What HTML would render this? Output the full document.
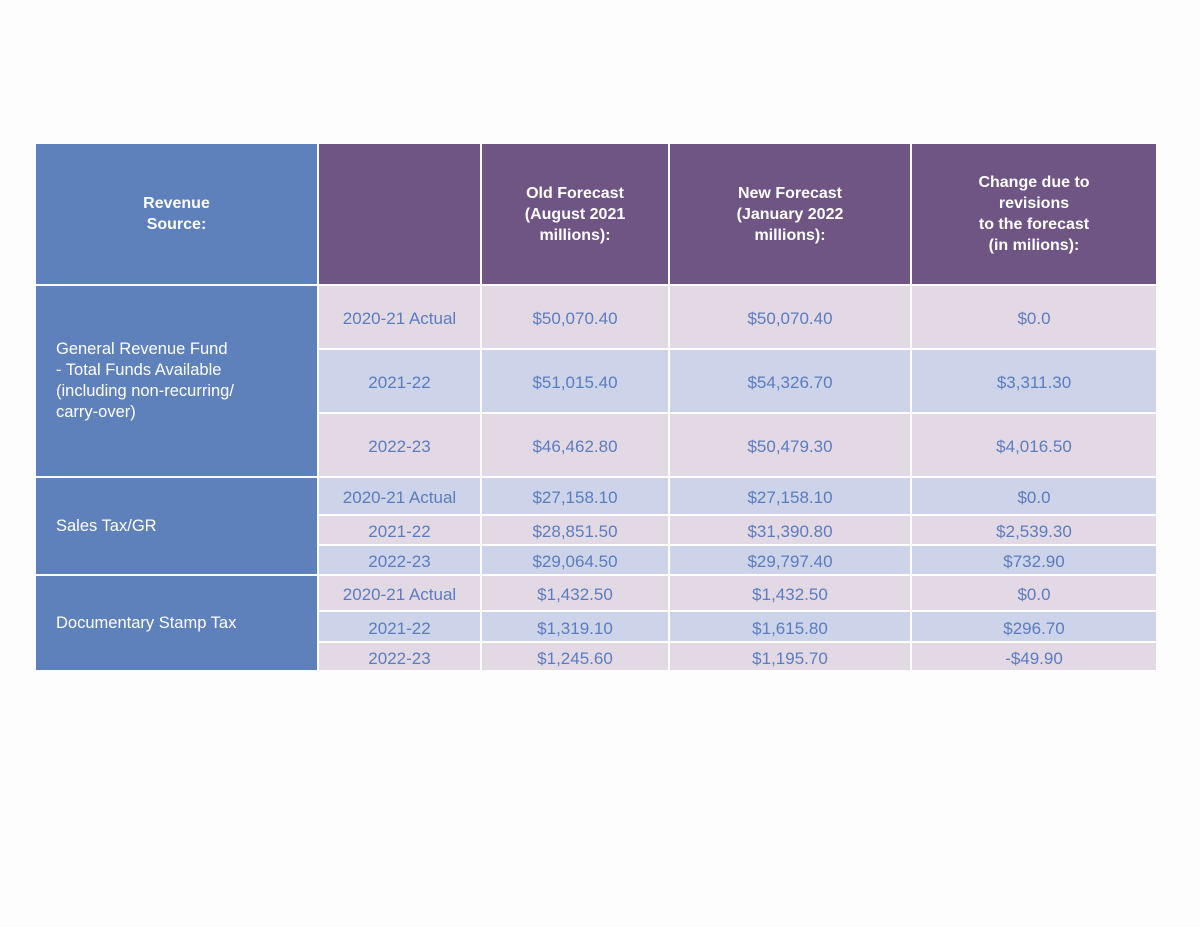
<!DOCTYPE html>
<html><head><meta charset="utf-8">
<style>
html,body{margin:0;padding:0;background:#fdfdfd;width:1200px;height:927px;overflow:hidden;font-family:"Liberation Sans",sans-serif}
.c{position:absolute;display:flex;align-items:center;justify-content:center;text-align:center;box-sizing:border-box}
.h{color:#fff;font-weight:bold;font-size:16px;line-height:21px}
.d{color:#5b7cc0;font-size:17px;padding-top:4px}
.l{color:#fff;font-size:16.5px;justify-content:flex-start;text-align:left;padding-left:20px;line-height:21px}
.B{background:#5e80bb}.P{background:#6e5584}.K{background:#e3d9e5}.V{background:#cdd3e8}
</style></head><body>
<div id="t"></div>
<script>
const cols=[[36,317],[319,480],[482,668],[670,910],[912,1156]];
const headers=["Revenue<br>Source:","","Old Forecast<br>(August 2021<br>millions):","New Forecast<br>(January 2022<br>millions):","Change due to<br>revisions<br>to the forecast<br>(in milions):"];
const groups=["General Revenue Fund<br>- Total Funds Available<br>(including non-recurring/<br>carry-over)","Sales Tax/GR","Documentary Stamp Tax"];
const rows=[[286,348],[350,412],[414,476],[478,514],[516,544],[546,574],[576,610],[612,641],[643,670]];
const rowBg=["K","V","K","V","K","V","K","V","K"];
const years=["2020-21 Actual","2021-22","2022-23"];
const oldF=["$50,070.40","$51,015.40","$46,462.80","$27,158.10","$28,851.50","$29,064.50","$1,432.50","$1,319.10","$1,245.60"];
const newF=["$50,070.40","$54,326.70","$50,479.30","$27,158.10","$31,390.80","$29,797.40","$1,432.50","$1,615.80","$1,195.70"];
const chg=["$0.0","$3,311.30","$4,016.50","$0.0","$2,539.30","$732.90","$0.0","$296.70","-$49.90"];
const t=document.getElementById('t');
function cell(x0,x1,y0,y1,cls,html,name){
  const d=document.createElement('div');
  d.className='c '+cls;
  d.style.left=x0+'px';d.style.top=y0+'px';d.style.width=(x1-x0)+'px';d.style.height=(y1-y0)+'px';
  d.innerHTML=html;
  
  
  t.appendChild(d);
}
headers.forEach((h,i)=>cell(cols[i][0],cols[i][1],144,284,'h '+(i==0?'B':'P'),h,'header-cell-'+i));
groups.forEach((g,i)=>cell(36,317,rows[i*3][0],rows[i*3+2][1],'l B',g,'group-label-'+i));
rows.forEach((r,i)=>{
  const bg=rowBg[i];
  cell(cols[1][0],cols[1][1],r[0],r[1],'d '+bg,years[i%3],'year-cell-'+i);
  cell(cols[2][0],cols[2][1],r[0],r[1],'d '+bg,oldF[i],'old-forecast-'+i);
  cell(cols[3][0],cols[3][1],r[0],r[1],'d '+bg,newF[i],'new-forecast-'+i);
  cell(cols[4][0],cols[4][1],r[0],r[1],'d '+bg,chg[i],'change-'+i);
});
</script>
</body></html>
